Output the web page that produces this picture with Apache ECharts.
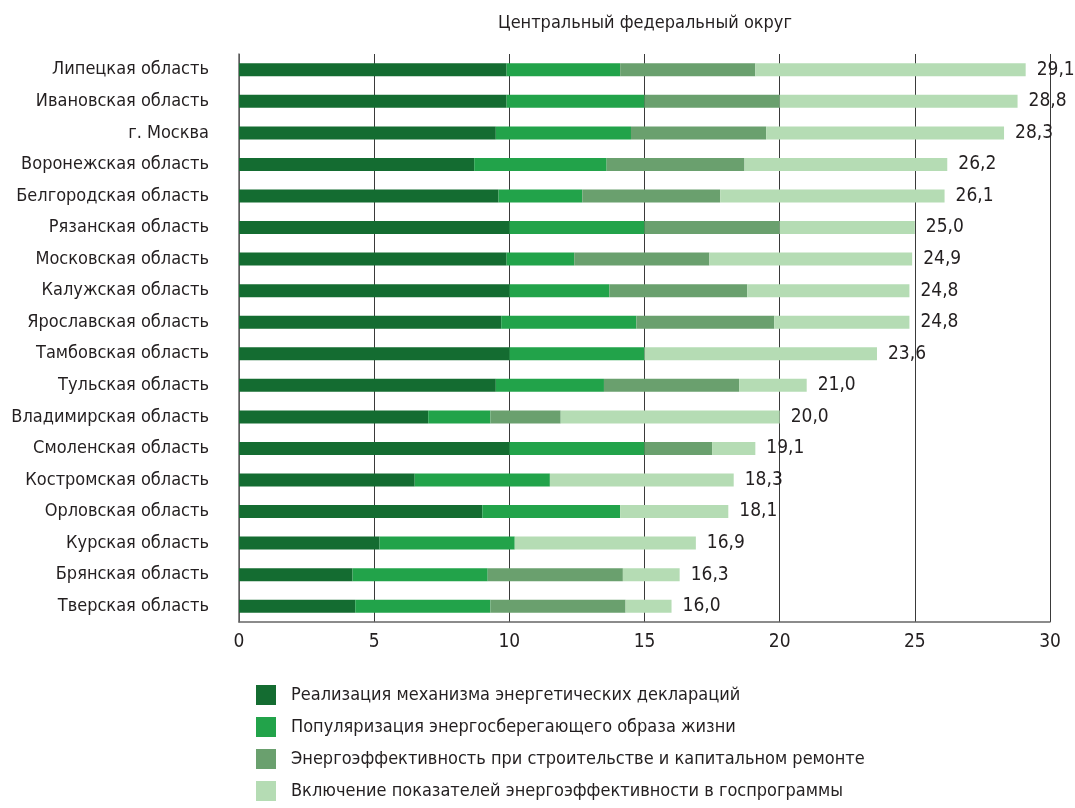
<!DOCTYPE html>
<html><head><meta charset="utf-8">
<script src="https://cdn.jsdelivr.net/npm/echarts@6/dist/echarts.min.js"></script>
<style>html,body{margin:0;padding:0;background:#fff}#c{width:1075px;height:808px}</style>
</head><body><div id="c"></div>
<script>
const categories = ["Липецкая область","Ивановская область","г. Москва","Воронежская область","Белгородская область","Рязанская область","Московская область","Калужская область","Ярославская область","Тамбовская область","Тульская область","Владимирская область","Смоленская область","Костромская область","Орловская область","Курская область","Брянская область","Тверская область"];
const seriesNames = ["Реализация механизма энергетических деклараций","Популяризация энергосберегающего образа жизни","Энергоэффективность при строительстве и капитальном ремонте","Включение показателей энергоэффективности в госпрограммы"];
const declarations = [9.9,9.9,9.5,8.7,9.6,10.0,9.9,10.0,9.7,10.0,9.5,7.0,10.0,6.5,9.0,5.2,4.2,4.3];
const popularization = [4.2,5.1,5.0,4.9,3.1,5.0,2.5,3.7,5.0,5.0,4.0,2.3,5.0,5.0,5.1,5.0,5.0,5.0];
const construction = [5.0,5.0,5.0,5.1,5.1,5.0,5.0,5.1,5.1,0,5.0,2.6,2.5,0,0,0,5.0,5.0];
const programs = [10.0,8.8,8.8,7.5,8.3,5.0,7.5,6.0,5.0,8.6,2.5,8.1,1.6,6.8,4.0,6.7,2.1,1.7];
const totals = ["29,1","28,8","28,3","26,2","26,1","25,0","24,9","24,8","24,8","23,6","21,0","20,0","19,1","18,3","18,1","16,9","16,3","16,0"];
const xTicks = {min:0,max:30,interval:5};
const colors = ["#146c31","#22a34a","#6aa06e","#b5dcb4"];
const FONT = "'Liberation Sans Narrow','DejaVu Sans Condensed','Roboto',sans-serif";
const values = [declarations, popularization, construction, programs];
const chart = echarts.init(document.getElementById('c'), null, {renderer:'canvas'});
chart.setOption({
  animation:false,
  backgroundColor:'#fff',
  title:{text:'Центральный федеральный округ',left:640,top:9,textAlign:'center',
    textStyle:{fontFamily:FONT,fontSize:18,fontWeight:'normal',color:'#231f20'}},
  grid:{left:239,right:25,top:54,bottom:186,containLabel:false,outerBoundsMode:'none'},
  legend:{orient:'vertical',left:256,top:685,padding:0,itemWidth:20,itemHeight:20,itemGap:12,icon:'rect',
    textStyle:{fontFamily:FONT,fontSize:18,color:'#231f20',padding:[2,0,0,10]},
    data:seriesNames},
  xAxis:{type:'value',min:xTicks.min,max:xTicks.max,interval:xTicks.interval,
    axisLine:{show:true,lineStyle:{color:'#666',width:1.5}},axisTick:{show:false},
    splitLine:{show:true,lineStyle:{color:'#3a3a3a',width:1}},
    axisLabel:{fontFamily:FONT,fontSize:19,color:'#231f20',margin:11}},
  yAxis:{type:'category',inverse:true,data:categories,
    axisLine:{show:true,lineStyle:{color:'#666',width:1.5}},axisTick:{show:false},
    axisLabel:{fontFamily:FONT,fontSize:18,color:'#231f20',margin:30,padding:[4,0,0,0]}},
  series:values.map((v,i)=>({
    name:seriesNames[i],type:'bar',stack:'s',barWidth:13,data:v,
    itemStyle:{color:colors[i]},
    label: i===3 ? {show:true,position:'right',distance:11,fontFamily:FONT,fontSize:19,color:'#231f20',
      formatter:p=>totals[p.dataIndex]} : {show:false}
  }))
});
</script></body></html>
